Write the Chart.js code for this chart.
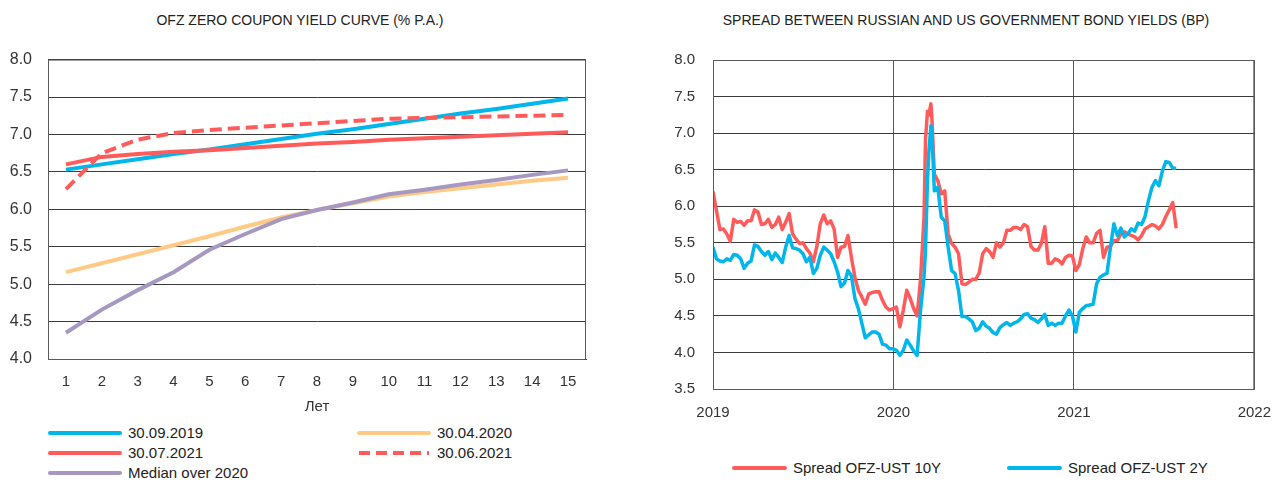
<!DOCTYPE html>
<html>
<head>
<meta charset="utf-8">
<script src="https://cdn.jsdelivr.net/npm/chart.js@4.4.0/dist/chart.umd.min.js"></script>
<style>
  body { margin: 0; background: #fff; font-family: "Liberation Sans", Arial, sans-serif; color: #222; }
  #page { position: relative; width: 1286px; height: 485px; overflow: hidden; }
  .title { position: absolute; top: 12px; font-size: 14px; white-space: nowrap; transform: translateX(-50%); }
  canvas { position: absolute; }
  .lg { position: absolute; font-size: 15px; line-height: 18px; white-space: nowrap; display: flex; align-items: center; }
  .lg svg { margin-right: 6px; }
</style>
</head>
<body>
<div id="page">
  <div class="title" style="left:300px">OFZ ZERO COUPON YIELD CURVE (% P.A.)</div>
  <div class="title" style="left:966px">SPREAD BETWEEN RUSSIAN AND US GOVERNMENT BOND YIELDS (BP)</div>
  <canvas id="curveChart" width="610" height="383" style="left:0;top:34px"></canvas>
  <canvas id="spreadChart" width="646" height="396" style="left:640px;top:33px"></canvas>
</div>
<script>
/* ── Left: OFZ zero coupon curve ── */
const maturities = ['1', '2', '3', '4', '5', '6', '7', '8', '9', '10', '11', '12', '13', '14', '15'];
const curve20190930 = [6.53, 6.60, 6.67, 6.74, 6.80, 6.87, 6.94, 7.01, 7.07, 7.14, 7.21, 7.28, 7.34, 7.41, 7.48];
const curve20200430 = [5.16, 5.28, 5.40, 5.52, 5.64, 5.77, 5.89, 5.99, 6.08, 6.17, 6.23, 6.28, 6.33, 6.38, 6.42];
const curve20210730 = [6.60, 6.70, 6.74, 6.77, 6.79, 6.82, 6.85, 6.88, 6.90, 6.93, 6.95, 6.97, 6.99, 7.01, 7.03];
const curve20210630 = [6.27, 6.75, 6.93, 7.02, 7.06, 7.09, 7.12, 7.15, 7.18, 7.21, 7.22, 7.23, 7.24, 7.25, 7.26];
const curveMedian2020 = [4.35, 4.66, 4.92, 5.16, 5.46, 5.67, 5.87, 5.99, 6.09, 6.20, 6.26, 6.33, 6.39, 6.46, 6.52];
const curveTicks = [4.0, 4.5, 5.0, 5.5, 6.0, 6.5, 7.0, 7.5, 8.0];

/* ── Right: spread OFZ - UST (weekly, extra points around the March 2020 spike) ── */
const spreadDates = [
  '2019-01-01', '2019-01-08', '2019-01-15', '2019-01-22', '2019-01-29', '2019-02-05',
  '2019-02-12', '2019-02-19', '2019-02-26', '2019-03-05', '2019-03-12', '2019-03-19',
  '2019-03-26', '2019-04-02', '2019-04-09', '2019-04-16', '2019-04-23', '2019-04-30',
  '2019-05-07', '2019-05-14', '2019-05-21', '2019-05-28', '2019-06-04', '2019-06-11',
  '2019-06-18', '2019-06-25', '2019-07-02', '2019-07-09', '2019-07-16', '2019-07-23',
  '2019-07-30', '2019-08-06', '2019-08-13', '2019-08-20', '2019-08-27', '2019-09-03',
  '2019-09-10', '2019-09-17', '2019-09-24', '2019-10-01', '2019-10-08', '2019-10-15',
  '2019-10-22', '2019-10-29', '2019-11-05', '2019-11-12', '2019-11-19', '2019-11-26',
  '2019-12-03', '2019-12-10', '2019-12-17', '2019-12-24', '2019-12-31', '2020-01-07',
  '2020-01-14', '2020-01-21', '2020-01-28', '2020-02-04', '2020-02-11', '2020-02-18',
  '2020-02-25', '2020-03-03', '2020-03-06', '2020-03-10', '2020-03-13', '2020-03-17',
  '2020-03-19', '2020-03-24', '2020-03-31', '2020-04-07', '2020-04-14', '2020-04-21',
  '2020-04-28', '2020-05-05', '2020-05-12', '2020-05-19', '2020-05-26', '2020-06-02',
  '2020-06-09', '2020-06-16', '2020-06-23', '2020-06-30', '2020-07-07', '2020-07-14',
  '2020-07-21', '2020-07-28', '2020-08-04', '2020-08-11', '2020-08-18', '2020-08-25',
  '2020-09-01', '2020-09-08', '2020-09-15', '2020-09-22', '2020-09-29', '2020-10-06',
  '2020-10-13', '2020-10-20', '2020-10-27', '2020-11-03', '2020-11-10', '2020-11-17',
  '2020-11-24', '2020-12-01', '2020-12-08', '2020-12-15', '2020-12-22', '2020-12-29',
  '2021-01-05', '2021-01-12', '2021-01-19', '2021-01-26', '2021-02-02', '2021-02-09',
  '2021-02-16', '2021-02-23', '2021-03-02', '2021-03-09', '2021-03-16', '2021-03-23',
  '2021-03-30', '2021-04-06', '2021-04-13', '2021-04-20', '2021-04-27', '2021-05-04',
  '2021-05-11', '2021-05-18', '2021-05-25', '2021-06-01', '2021-06-08', '2021-06-15',
  '2021-06-22', '2021-06-29', '2021-07-06', '2021-07-13', '2021-07-20', '2021-07-27'
];
const spread10y = [
  6.20, 5.94, 5.68, 5.69, 5.62, 5.52,
  5.82, 5.78, 5.79, 5.74, 5.80, 5.80,
  5.95, 5.92, 5.75, 5.76, 5.82, 5.71,
  5.75, 5.85, 5.68, 5.78, 5.90, 5.62,
  5.55, 5.49, 5.50, 5.42, 5.36, 5.24,
  5.45, 5.76, 5.88, 5.76, 5.80, 5.69,
  5.30, 5.44, 5.45, 5.60, 5.30, 5.03,
  4.85, 4.76, 4.66, 4.80, 4.82, 4.83,
  4.83, 4.71, 4.62, 4.58, 4.60, 4.62,
  4.35, 4.58, 4.85, 4.74, 4.60, 4.50,
  5.00, 5.85, 6.90, 7.30, 7.25, 7.40,
  7.20, 6.44, 6.35, 6.17, 6.21, 5.62,
  5.49, 5.44, 5.35, 4.94, 4.93, 4.96,
  5.00, 5.00, 5.09, 5.35, 5.42, 5.38,
  5.30, 5.50, 5.44, 5.50, 5.67, 5.67,
  5.71, 5.71, 5.68, 5.75, 5.72, 5.45,
  5.40, 5.40, 5.49, 5.72, 5.22, 5.22,
  5.28, 5.26, 5.21, 5.30, 5.33, 5.32,
  5.12, 5.20, 5.42, 5.58, 5.50, 5.50,
  5.63, 5.67, 5.30, 5.44, 5.45, 5.53,
  5.53, 5.62, 5.65, 5.62, 5.60, 5.58,
  5.54, 5.60, 5.69, 5.72, 5.75, 5.73,
  5.69, 5.75, 5.86, 5.95, 6.05, 5.70
];
const spread2y = [
  5.44, 5.28, 5.25, 5.24, 5.28, 5.26,
  5.34, 5.33, 5.28, 5.15, 5.22, 5.25,
  5.47, 5.45, 5.38, 5.33, 5.38, 5.27,
  5.36, 5.30, 5.23, 5.44, 5.60, 5.43,
  5.42, 5.40, 5.35, 5.24, 5.30, 5.08,
  5.15, 5.33, 5.44, 5.40, 5.35, 5.24,
  5.10, 4.90, 4.95, 5.12, 5.05, 4.74,
  4.60, 4.40, 4.20, 4.24, 4.28, 4.28,
  4.25, 4.11, 4.10, 4.05, 4.05, 4.03,
  3.96, 4.03, 4.17, 4.10, 4.02, 3.96,
  4.58, 5.03, 5.40, 6.35, 6.76, 7.10,
  7.00, 6.21, 6.26, 5.85, 5.80, 5.44,
  5.12, 5.08, 4.85, 4.49, 4.49, 4.46,
  4.42, 4.30, 4.33, 4.42, 4.36, 4.33,
  4.27, 4.25, 4.34, 4.38, 4.41, 4.37,
  4.40, 4.42, 4.46, 4.52, 4.53, 4.47,
  4.45, 4.41, 4.46, 4.52, 4.37, 4.40,
  4.37, 4.40, 4.40, 4.50, 4.58, 4.50,
  4.28, 4.55, 4.60, 4.64, 4.65, 4.66,
  4.94, 5.03, 5.06, 5.08, 5.44, 5.76,
  5.60, 5.70, 5.58, 5.62, 5.69, 5.66,
  5.77, 5.75, 5.86, 6.08, 6.26, 6.35,
  6.28, 6.48, 6.61, 6.60, 6.52, 6.52
];
const spreadYears = [2019, 2020, 2021, 2022];
const spreadTicks = [3.5, 4.0, 4.5, 5.0, 5.5, 6.0, 6.5, 7.0, 7.5, 8.0];

const BLUE = '#00B6EA', RED = '#FF5B5B', YELLOW = '#FFCA85', PURPLE = '#A698C0';
const FAMILY = '"Liberation Sans", Arial, sans-serif';
const GRID = '#3a3a3a';

function yearFrac(s) {
    const d = Date.parse(s + 'T00:00:00Z');
    const y = +s.slice(0, 4);
    const a = Date.UTC(y, 0, 1), b = Date.UTC(y + 1, 0, 1);
    return y + (d - a) / (b - a);
}

// closed frame around the plot area
const frame = {
    id: 'frame',
    afterDatasetsDraw(chart) {
        const { ctx, chartArea: a } = chart;
        ctx.save();
        ctx.strokeStyle = '#5a5a5a';
        ctx.lineWidth = 1;
        ctx.strokeRect(a.left + 0.5, a.top + 0.5, a.right - a.left - 1, a.bottom - a.top);
        ctx.restore();
    }
};

Chart.defaults.animation = false;
Chart.defaults.color = '#333';

new Chart(document.getElementById('curveChart'), {
    type: 'line',
    data: {
        labels: maturities,
        datasets: [
            { label: '30.09.2019', data: curve20190930, borderColor: BLUE, order: 3 },
            { label: '30.04.2020', data: curve20200430, borderColor: YELLOW, order: 5 },
            { label: '30.07.2021', data: curve20210730, borderColor: RED, order: 2 },
            { label: '30.06.2021', data: curve20210630, borderColor: RED, borderDash: [12, 6], order: 1 },
            { label: 'Median over 2020', data: curveMedian2020, borderColor: PURPLE, order: 4 }
        ].map(d => ({ ...d, borderWidth: 4, pointRadius: 0, tension: 0, fill: false }))
    },
    options: {
        responsive: false,
        layout: { padding: { left: 0, right: 24, top: 12, bottom: 0 } },
        plugins: { legend: { display: false }, tooltip: { enabled: false } },
        scales: {
            x: {
                offset: true,
                afterFit: s => { s.height = 58; },
                grid: { display: false, drawTicks: false },
                border: { color: GRID },
                ticks: { font: { family: FAMILY, size: 15 }, padding: 14, color: '#333', maxRotation: 0 },
                title: { display: true, text: 'Лет', font: { family: FAMILY, size: 15 }, color: '#333', padding: { top: 4, bottom: 1 } }
            },
            y: {
                min: 4, max: 8,
                afterBuildTicks: s => { s.ticks = curveTicks.map(v => ({ value: v })); },
                afterFit: s => { s.width = 48; },
                grid: { color: GRID, drawTicks: false },
                border: { color: GRID },
                ticks: { font: { family: FAMILY, size: 16 }, padding: 16, color: '#333', callback: v => v.toFixed(1) }
            }
        }
    },
    plugins: [frame]
});

new Chart(document.getElementById('spreadChart'), {
    type: 'line',
    data: {
        datasets: [
            { label: 'Spread OFZ-UST 10Y', data: spreadDates.map((d, i) => ({ x: yearFrac(d), y: spread10y[i] })), borderColor: RED, order: 2 },
            { label: 'Spread OFZ-UST 2Y', data: spreadDates.map((d, i) => ({ x: yearFrac(d), y: spread2y[i] })), borderColor: BLUE, order: 1 }
        ].map(d => ({ ...d, borderWidth: 3.5, pointRadius: 0, tension: 0, borderJoinStyle: 'round', fill: false }))
    },
    options: {
        responsive: false,
        layout: { padding: { left: 0, right: 31, top: 12, bottom: 0 } },
        plugins: { legend: { display: false }, tooltip: { enabled: false } },
        scales: {
            x: {
                type: 'linear', min: 2019, max: 2022,
                afterBuildTicks: s => { s.ticks = spreadYears.map(v => ({ value: v })); },
                afterFit: s => { s.height = 40; },
                grid: { color: '#5a5a5a', drawTicks: false },
                border: { color: '#5a5a5a' },
                ticks: { font: { family: FAMILY, size: 15 }, padding: 15, color: '#333', maxRotation: 0, callback: v => String(v) }
            },
            y: {
                min: 3.5, max: 8,
                afterBuildTicks: s => { s.ticks = spreadTicks.map(v => ({ value: v })); },
                afterFit: s => { s.width = 73; },
                grid: { color: GRID, drawTicks: false },
                border: { color: '#5a5a5a' },
                ticks: { font: { family: FAMILY, size: 15 }, padding: 18, color: '#333', callback: v => v.toFixed(1) }
            }
        }
    },
    plugins: [frame]
});

/* ── HTML legends ── */
function legendItem(x, y, len, color, text, dashed) {
    const el = document.createElement('div');
    el.className = 'lg';
    el.style.left = x + 'px';
    el.style.top = (y - 9) + 'px';
    el.innerHTML = `<svg width="${len}" height="6"><line x1="2" y1="3" x2="${len - 2}" y2="3" stroke="${color}" stroke-width="4"
        stroke-linecap="${dashed ? 'butt' : 'round'}" ${dashed ? 'stroke-dasharray="11 6"' : ''}/></svg><span>${text}</span>`;
    document.getElementById('page').appendChild(el);
}
legendItem(48, 433, 74, BLUE, '30.09.2019');
legendItem(357, 433, 74, YELLOW, '30.04.2020');
legendItem(48, 453, 74, RED, '30.07.2021');
legendItem(357, 453, 74, RED, '30.06.2021', true);
legendItem(48, 473, 74, PURPLE, 'Median over 2020');
legendItem(732, 468, 55, RED, 'Spread OFZ-UST 10Y');
legendItem(1007, 468, 55, BLUE, 'Spread OFZ-UST 2Y');
</script>
</body>
</html>
